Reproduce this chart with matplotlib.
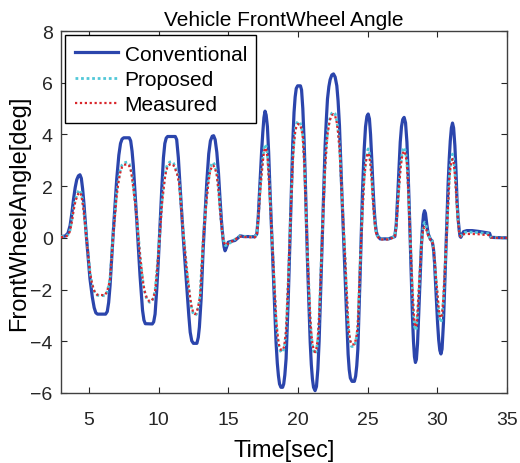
import matplotlib
matplotlib.use("Agg")
import matplotlib.pyplot as plt

plt.rcParams["font.family"] = ["Liberation Sans", "DejaVu Sans"]

# Front wheel angle traces as (time [s], angle [deg]) pairs
CONVENTIONAL = [
    (3.0, 0.05), (3.3, 0.07), (3.5, 0.18), (3.65, 0.47), (3.78, 0.95), (3.9, 1.5),
    (4.02, 1.95), (4.13, 2.25), (4.25, 2.4), (4.36, 2.44), (4.46, 2.3), (4.55, 1.9),
    (4.65, 1.3), (4.83, 0.0), (5.08, -1.59), (5.25, -2.3), (5.38, -2.7), (5.5, -2.9),
    (5.62, -2.95), (6.2, -2.95), (6.32, -2.85), (6.42, -2.5), (6.52, -1.85), (6.75, 0.22),
    (7.0, 2.28), (7.15, 3.2), (7.27, 3.65), (7.38, 3.82), (7.5, 3.87), (7.9, 3.87),
    (8.0, 3.75), (8.1, 3.35), (8.19, 2.79), (8.43, 0.73), (8.67, -1.46), (8.85, -2.8),
    (8.95, -3.18), (9.05, -3.32), (9.55, -3.33), (9.65, -3.25), (9.75, -2.95), (9.87, -2.0),
    (9.99, -0.82), (10.23, 1.89), (10.35, 3.1), (10.45, 3.65), (10.55, 3.86), (10.65, 3.92),
    (11.2, 3.92), (11.3, 3.8), (11.42, 3.1), (11.54, 2.02), (11.78, -0.04), (12.02, -1.85),
    (12.17, -3.0), (12.27, -3.65), (12.38, -3.98), (12.5, -4.08), (12.75, -4.08), (12.85, -3.85),
    (12.93, -3.45), (13.05, -2.4), (13.2, -0.43), (13.46, 2.15), (13.6, 3.25), (13.72, 3.75),
    (13.85, 3.93), (13.95, 3.95), (14.06, 3.8), (14.18, 3.31), (14.3, 2.5), (14.41, 1.5),
    (14.52, 0.6), (14.62, 0.0), (14.7, -0.35), (14.77, -0.5), (14.85, -0.4), (15.0, -0.17),
    (15.25, -0.13), (15.49, -0.1), (15.7, 0.0), (15.85, 0.08), (16.1, 0.05), (16.5, 0.05),
    (16.9, 0.04), (17.05, 0.15), (17.15, 0.8), (17.29, 2.28), (17.4, 3.4), (17.48, 4.08),
    (17.56, 4.65), (17.64, 4.9), (17.72, 4.75), (17.81, 4.3), (17.9, 3.3), (18.0, 1.76),
    (18.12, 0.2), (18.24, -1.46), (18.43, -4.04), (18.52, -4.85), (18.6, -5.33), (18.68, -5.65),
    (18.78, -5.78), (18.9, -5.78), (18.98, -5.65), (19.06, -5.3), (19.15, -4.68), (19.32, -2.1),
    (19.49, 1.12), (19.63, 3.7), (19.72, 4.85), (19.8, 5.45), (19.88, 5.78), (19.98, 5.88),
    (20.18, 5.88), (20.26, 5.72), (20.35, 5.0), (20.44, 3.8), (20.52, 2.4), (20.68, -0.82),
    (20.88, -4.04), (20.96, -4.9), (21.04, -5.46), (21.12, -5.78), (21.23, -5.91), (21.33, -5.75),
    (21.43, -5.07), (21.52, -4.0), (21.59, -2.75), (21.79, 0.73), (21.95, 3.57), (22.04, 4.6),
    (22.12, 5.37), (22.22, 5.85), (22.31, 6.12), (22.43, 6.3), (22.55, 6.34), (22.67, 6.22),
    (22.79, 5.88), (22.88, 5.3), (22.98, 4.34), (23.15, 1.76), (23.39, -1.6), (23.52, -3.5),
    (23.6, -4.5), (23.68, -5.1), (23.76, -5.42), (23.88, -5.55), (24.05, -5.55), (24.14, -5.35),
    (24.22, -4.95), (24.3, -4.3), (24.46, -1.46), (24.63, 1.76), (24.75, 3.4), (24.85, 4.3),
    (24.95, 4.7), (25.04, 4.79), (25.13, 4.6), (25.21, 4.0), (25.3, 3.0), (25.38, 2.02),
    (25.46, 1.2), (25.54, 0.6), (25.62, 0.25), (25.71, 0.08), (25.9, -0.04), (26.5, -0.04),
    (26.95, 0.05), (27.05, 0.5), (27.17, 1.76), (27.34, 3.7), (27.43, 4.3), (27.52, 4.58),
    (27.62, 4.66), (27.72, 4.45), (27.82, 3.7), (27.9, 2.6), (27.98, 1.3), (28.05, 0.0),
    (28.13, -1.46), (28.22, -3.1), (28.29, -4.0), (28.36, -4.6), (28.43, -4.82), (28.5, -4.7),
    (28.58, -4.1), (28.67, -2.9), (28.77, -1.46), (28.85, -0.4), (28.94, 0.47), (29.01, 0.9),
    (29.08, 1.05), (29.15, 0.95), (29.25, 0.5), (29.35, 0.15), (29.5, -0.05), (29.63, -0.12),
    (29.72, -0.4), (29.8, -0.95), (29.88, -1.8), (29.95, -2.6), (30.02, -3.3), (30.1, -3.95),
    (30.18, -4.35), (30.26, -4.49), (30.34, -4.3), (30.44, -3.3), (30.53, -1.9), (30.62, -0.43),
    (30.7, 0.9), (30.78, 2.15), (30.86, 3.1), (30.93, 3.75), (31.01, 4.25), (31.09, 4.44),
    (31.17, 4.25), (31.26, 3.57), (31.34, 2.6), (31.41, 1.5), (31.49, 0.75), (31.57, 0.3),
    (31.63, 0.06), (31.69, 0.02), (31.78, 0.12), (31.88, 0.24), (32.12, 0.28), (32.5, 0.28),
    (32.96, 0.25), (33.3, 0.22), (33.56, 0.2), (33.75, 0.18), (33.8, 0.1), (33.85, 0.02),
    (34.3, 0.01), (35.0, 0.0),
]

PROPOSED = [
    (3.0, 0.05), (3.3, 0.06), (3.5, 0.12), (3.65, 0.3), (3.78, 0.7), (3.89, 1.12),
    (4.02, 1.45), (4.13, 1.65), (4.25, 1.8), (4.36, 1.85), (4.47, 1.7), (4.6, 1.25),
    (4.84, -0.05), (5.08, -1.33), (5.2, -1.72), (5.32, -1.98), (5.45, -2.15), (5.6, -2.22),
    (6.15, -2.24), (6.3, -2.1), (6.42, -1.85), (6.52, -1.55), (6.75, 0.2), (7.0, 1.76),
    (7.12, 2.25), (7.24, 2.6), (7.38, 2.82), (7.5, 2.9), (7.75, 2.93), (7.9, 2.85),
    (8.0, 2.7), (8.1, 2.4), (8.43, 0.86), (8.67, -0.69), (8.91, -1.85), (9.03, -2.15),
    (9.15, -2.36), (9.35, -2.49), (9.5, -2.47), (9.62, -2.35), (9.75, -2.05), (9.99, -0.6),
    (10.23, 1.3), (10.35, 1.95), (10.45, 2.4), (10.55, 2.7), (10.65, 2.85), (10.8, 2.93),
    (10.95, 2.95), (11.08, 2.88), (11.2, 2.72), (11.33, 2.55), (11.47, 2.2), (11.78, 0.22),
    (12.02, -1.2), (12.26, -2.36), (12.38, -2.75), (12.5, -2.95), (12.6, -3.0), (12.72, -2.95),
    (12.85, -2.7), (12.98, -2.24), (13.2, -0.04), (13.46, 1.63), (13.58, 2.25), (13.7, 2.66),
    (13.82, 2.87), (13.93, 2.92), (14.05, 2.8), (14.18, 2.5), (14.3, 1.9), (14.41, 1.12),
    (14.52, 0.5), (14.62, 0.05), (14.72, -0.22), (14.8, -0.3), (15.0, -0.25), (15.25, -0.15),
    (15.5, -0.05), (15.85, 0.08), (16.3, 0.05), (16.9, 0.04), (17.05, 0.15), (17.15, 0.75),
    (17.29, 1.89), (17.4, 2.6), (17.48, 3.05), (17.56, 3.45), (17.64, 3.62), (17.72, 3.55),
    (17.81, 3.25), (17.9, 2.5), (18.0, 1.5), (18.12, 0.2), (18.24, -1.07), (18.43, -3.14),
    (18.52, -3.75), (18.6, -4.1), (18.68, -4.32), (18.8, -4.42), (18.92, -4.42), (19.02, -4.25),
    (19.15, -3.65), (19.32, -1.46), (19.49, 1.12), (19.63, 3.05), (19.72, 3.75), (19.8, 4.2),
    (19.9, 4.42), (20.0, 4.5), (20.15, 4.47), (20.25, 4.3), (20.35, 3.95), (20.44, 3.1),
    (20.52, 2.02), (20.68, -0.56), (20.88, -3.14), (20.96, -3.75), (21.04, -4.17), (21.13, -4.4),
    (21.23, -4.49), (21.33, -4.35), (21.43, -3.91), (21.52, -3.1), (21.59, -2.1), (21.79, 0.73),
    (21.95, 2.79), (22.04, 3.55), (22.12, 4.08), (22.22, 4.45), (22.31, 4.66), (22.43, 4.82),
    (22.55, 4.86), (22.67, 4.8), (22.79, 4.53), (22.88, 4.15), (22.98, 3.57), (23.15, 1.76),
    (23.39, -0.82), (23.5, -2.2), (23.58, -3.1), (23.66, -3.7), (23.75, -4.05), (23.85, -4.2),
    (24.05, -4.2), (24.15, -4.0), (24.23, -3.75), (24.3, -3.4), (24.46, -1.07), (24.63, 1.12),
    (24.75, 2.3), (24.85, 2.95), (24.95, 3.32), (25.04, 3.44), (25.12, 3.3), (25.21, 2.92),
    (25.3, 2.25), (25.38, 1.5), (25.46, 0.95), (25.54, 0.47), (25.62, 0.2), (25.71, 0.08),
    (25.9, -0.04), (26.5, -0.04), (26.95, 0.05), (27.05, 0.45), (27.17, 1.37), (27.34, 2.66),
    (27.43, 3.1), (27.52, 3.4), (27.62, 3.5), (27.72, 3.35), (27.82, 2.92), (27.9, 2.1),
    (27.98, 1.12), (28.05, 0.1), (28.13, -0.95), (28.22, -2.1), (28.29, -2.88), (28.36, -3.4),
    (28.43, -3.58), (28.5, -3.5), (28.58, -3.0), (28.67, -2.1), (28.77, -1.07), (28.85, -0.3),
    (28.94, 0.21), (29.01, 0.5), (29.08, 0.6), (29.15, 0.55), (29.25, 0.35), (29.35, 0.12),
    (29.5, -0.05), (29.63, -0.11), (29.72, -0.35), (29.8, -0.8), (29.88, -1.4), (29.95, -1.85),
    (30.02, -2.35), (30.1, -2.85), (30.18, -3.15), (30.26, -3.27), (30.34, -3.1), (30.44, -2.36),
    (30.53, -1.4), (30.62, -0.43), (30.7, 0.5), (30.78, 1.5), (30.86, 2.3), (30.93, 2.79),
    (31.01, 3.1), (31.09, 3.24), (31.17, 3.05), (31.26, 2.53), (31.34, 1.9), (31.41, 1.25),
    (31.49, 0.7), (31.57, 0.28), (31.63, 0.12), (31.69, 0.08), (31.78, 0.14), (31.88, 0.2),
    (32.12, 0.22), (32.5, 0.22), (32.96, 0.2), (33.3, 0.18), (33.56, 0.17), (33.75, 0.15),
    (33.8, 0.08), (33.85, 0.02), (34.3, 0.01), (35.0, 0.0),
]

MEASURED = [
    (3.0, 0.03), (3.3, 0.04), (3.5, 0.1), (3.65, 0.26), (3.78, 0.62), (3.89, 1.02),
    (4.02, 1.38), (4.13, 1.57), (4.25, 1.72), (4.36, 1.76), (4.47, 1.62), (4.6, 1.18),
    (4.84, -0.1), (5.08, -1.32), (5.2, -1.7), (5.32, -1.96), (5.45, -2.13), (5.6, -2.2),
    (6.15, -2.22), (6.3, -2.08), (6.42, -1.86), (6.52, -1.58), (6.75, 0.1), (7.0, 1.65),
    (7.12, 2.15), (7.24, 2.5), (7.38, 2.74), (7.5, 2.82), (7.75, 2.85), (7.9, 2.78),
    (8.0, 2.63), (8.1, 2.34), (8.43, 0.8), (8.67, -0.7), (8.91, -1.82), (9.03, -2.12),
    (9.15, -2.32), (9.35, -2.46), (9.5, -2.44), (9.62, -2.33), (9.75, -2.08), (9.99, -0.66),
    (10.23, 1.2), (10.35, 1.85), (10.45, 2.3), (10.55, 2.6), (10.65, 2.76), (10.8, 2.84),
    (10.95, 2.86), (11.08, 2.8), (11.2, 2.65), (11.33, 2.48), (11.47, 2.12), (11.78, 0.15),
    (12.02, -1.22), (12.26, -2.32), (12.38, -2.7), (12.5, -2.9), (12.6, -2.95), (12.72, -2.9),
    (12.85, -2.66), (12.98, -2.24), (13.2, -0.1), (13.46, 1.55), (13.58, 2.16), (13.7, 2.56),
    (13.82, 2.76), (13.93, 2.8), (14.05, 2.7), (14.18, 2.42), (14.3, 1.84), (14.41, 1.06),
    (14.52, 0.45), (14.62, 0.0), (14.72, -0.2), (14.8, -0.28), (15.0, -0.22), (15.25, -0.14),
    (15.5, -0.06), (15.85, 0.05), (16.3, 0.03), (16.9, 0.02), (17.05, 0.1), (17.15, 0.68),
    (17.29, 1.8), (17.4, 2.5), (17.48, 2.95), (17.56, 3.32), (17.64, 3.48), (17.72, 3.42),
    (17.81, 3.14), (17.9, 2.42), (18.0, 1.45), (18.12, 0.15), (18.24, -1.05), (18.43, -3.06),
    (18.52, -3.68), (18.6, -4.02), (18.68, -4.24), (18.8, -4.34), (18.92, -4.34), (19.02, -4.18),
    (19.15, -3.6), (19.32, -1.45), (19.49, 1.05), (19.63, 2.95), (19.72, 3.65), (19.8, 4.1),
    (19.9, 4.33), (20.0, 4.4), (20.15, 4.38), (20.25, 4.22), (20.35, 3.88), (20.44, 3.05),
    (20.52, 1.95), (20.68, -0.58), (20.88, -3.08), (20.96, -3.68), (21.04, -4.1), (21.13, -4.33),
    (21.23, -4.42), (21.33, -4.28), (21.43, -3.86), (21.52, -3.08), (21.59, -2.1), (21.79, 0.68),
    (21.95, 2.7), (22.04, 3.45), (22.12, 3.98), (22.22, 4.36), (22.31, 4.58), (22.43, 4.74),
    (22.55, 4.78), (22.67, 4.72), (22.79, 4.45), (22.88, 4.08), (22.98, 3.5), (23.15, 1.7),
    (23.39, -0.82), (23.5, -2.16), (23.58, -3.04), (23.66, -3.62), (23.75, -3.97), (23.85, -4.12),
    (24.05, -4.12), (24.15, -3.94), (24.23, -3.7), (24.3, -3.35), (24.46, -1.08), (24.63, 1.05),
    (24.75, 2.2), (24.85, 2.84), (24.95, 3.18), (25.04, 3.28), (25.12, 3.16), (25.21, 2.82),
    (25.3, 2.18), (25.38, 1.45), (25.46, 0.9), (25.54, 0.42), (25.62, 0.16), (25.71, 0.05),
    (25.9, -0.06), (26.5, -0.06), (26.95, 0.03), (27.05, 0.4), (27.17, 1.3), (27.34, 2.58),
    (27.43, 3.0), (27.52, 3.27), (27.62, 3.36), (27.72, 3.22), (27.82, 2.85), (27.9, 2.05),
    (27.98, 1.08), (28.05, 0.08), (28.13, -0.92), (28.22, -2.05), (28.29, -2.8), (28.36, -3.28),
    (28.43, -3.45), (28.5, -3.38), (28.58, -2.92), (28.67, -2.06), (28.77, -1.05), (28.85, -0.34),
    (28.94, 0.15), (29.01, 0.35), (29.08, 0.42), (29.15, 0.38), (29.25, 0.26), (29.35, 0.08),
    (29.5, -0.07), (29.63, -0.12), (29.72, -0.34), (29.8, -0.78), (29.88, -1.36), (29.95, -1.8),
    (30.02, -2.28), (30.1, -2.76), (30.18, -3.02), (30.26, -3.1), (30.34, -2.98), (30.44, -2.3),
    (30.53, -1.38), (30.62, -0.42), (30.7, 0.46), (30.78, 1.42), (30.86, 2.2), (30.93, 2.68),
    (31.01, 2.96), (31.09, 3.05), (31.17, 2.9), (31.26, 2.45), (31.34, 1.84), (31.41, 1.2),
    (31.49, 0.66), (31.57, 0.22), (31.63, 0.08), (31.69, 0.05), (31.78, 0.1), (31.88, 0.14),
    (32.12, 0.15), (32.5, 0.15), (32.96, 0.14), (33.3, 0.12), (33.56, 0.12), (33.75, 0.1),
    (33.8, 0.06), (33.85, 0.01), (34.3, 0.0), (35.0, 0.0),
]

X_TICKS = [5, 10, 15, 20, 25, 30, 35]
Y_TICKS = [-6, -4, -2, 0, 2, 4, 6, 8]


def split(pairs):
    return [p[0] for p in pairs], [p[1] for p in pairs]


fig = plt.figure(figsize=(5.2, 4.64), dpi=100)
ax = fig.add_axes([0.1173, 0.1509, 0.8577, 0.7801])

t, y = split(CONVENTIONAL)
ax.plot(t, y, color="#2B45AC", linewidth=2.3, label="Conventional", zorder=2,
        solid_joinstyle="round")
t, y = split(PROPOSED)
ax.plot(t, y, color="#52C8D8", linewidth=2.0, linestyle=(0, (1, 1)),
        label="Proposed", zorder=3)
t, y = split(MEASURED)
ax.plot(t, y, color="#D9262B", linewidth=1.6, linestyle=(0, (1, 1.2)),
        label="Measured", zorder=4)

ax.set_xlim(3, 35)
ax.set_ylim(-6, 8)
ax.set_xticks(X_TICKS)
ax.set_yticks(Y_TICKS)
ax.tick_params(direction="in", top=True, right=True, length=4, width=0.8,
               labelsize=14, colors="#262626")
ax.tick_params(axis="x", pad=13)
ax.tick_params(axis="y", pad=6)
for s in ax.spines.values():
    s.set_color("#404040")
    s.set_linewidth(1.0)

ax.set_title("Vehicle FrontWheel Angle", fontsize=15, pad=4)
ax.set_xlabel("Time[sec]", fontsize=17, labelpad=8)
ax.set_ylabel("FrontWheelAngle[deg]", fontsize=17, labelpad=0)

leg = ax.legend(loc="upper left", fontsize=15, frameon=True, fancybox=False,
                borderaxespad=0.2, handlelength=2.1, handletextpad=0.3,
                borderpad=0.45, labelspacing=0.3)
leg.get_frame().set_edgecolor("#000000")
leg.get_frame().set_linewidth(1.0)
leg.get_frame().set_alpha(1.0)

fig.savefig("out.png", dpi=100)
